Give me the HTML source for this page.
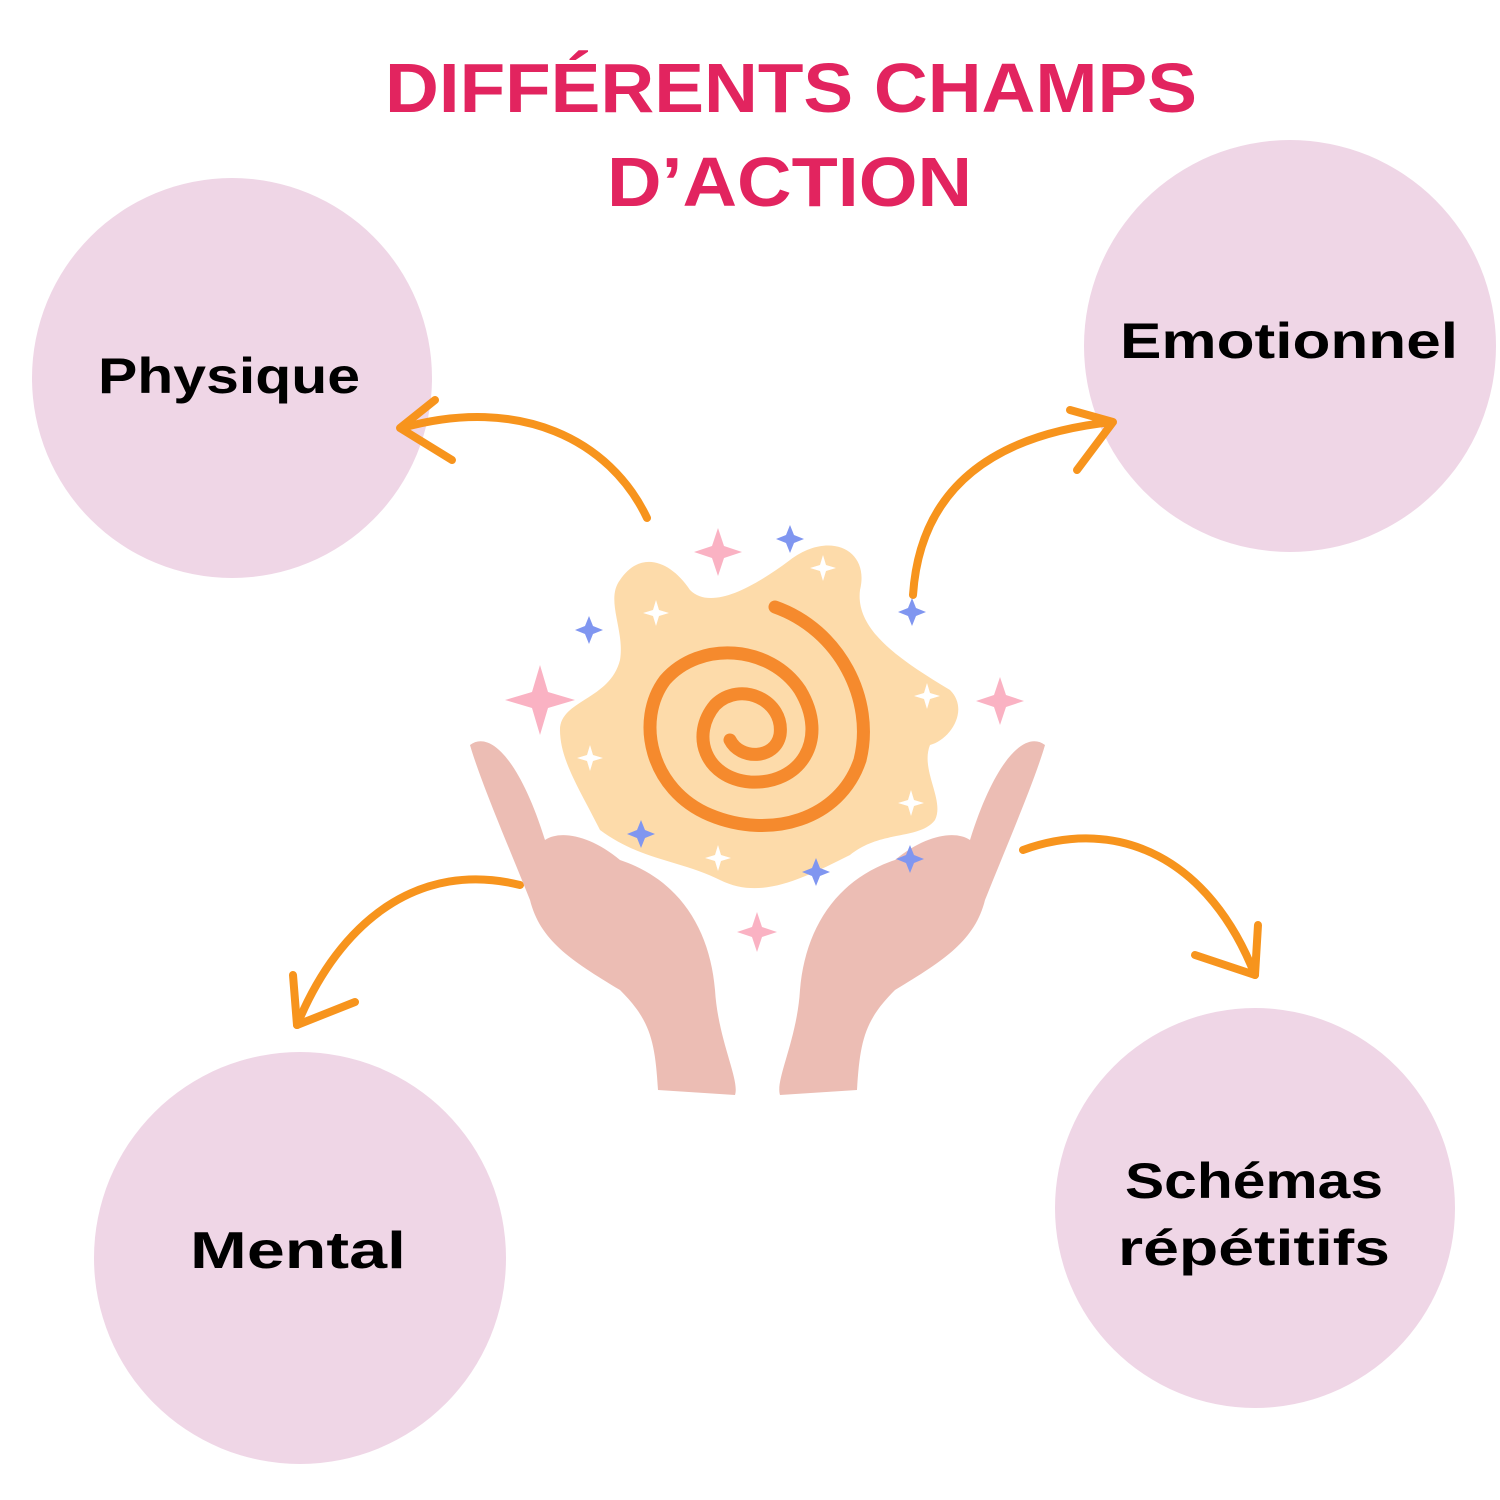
<!DOCTYPE html>
<html><head><meta charset="utf-8"><style>
html,body{margin:0;padding:0;background:#fff}
svg{display:block}
text{font-family:"Liberation Sans",sans-serif;font-weight:bold}
</style></head><body>
<svg width="1500" height="1500" viewBox="0 0 1500 1500" xmlns="http://www.w3.org/2000/svg">
<rect width="1500" height="1500" fill="#fff"/>
<circle cx="232" cy="378" r="200" fill="#efd6e6"/>
<circle cx="1290" cy="346" r="206" fill="#efd6e6"/>
<circle cx="300" cy="1258" r="206" fill="#efd6e6"/>
<circle cx="1255" cy="1208" r="200" fill="#efd6e6"/>
<text x="385" y="112" textLength="812" lengthAdjust="spacingAndGlyphs" font-size="70" fill="#e2245f">DIFFÉRENTS CHAMPS</text>
<text x="607" y="206" textLength="365" lengthAdjust="spacingAndGlyphs" font-size="70" fill="#e2245f">D’ACTION</text>
<text x="98" y="393" textLength="262" lengthAdjust="spacingAndGlyphs" font-size="50" fill="#000">Physique</text>
<text x="1120" y="358" textLength="338" lengthAdjust="spacingAndGlyphs" font-size="50" fill="#000">Emotionnel</text>
<text x="190" y="1268" textLength="216" lengthAdjust="spacingAndGlyphs" font-size="52" fill="#000">Mental</text>
<text x="1125" y="1198" textLength="258" lengthAdjust="spacingAndGlyphs" font-size="50" fill="#000">Schémas</text>
<text x="1118" y="1265" textLength="272" lengthAdjust="spacingAndGlyphs" font-size="50" fill="#000">répétitifs</text>
<g fill="none" stroke="#f7941d" stroke-width="8" stroke-linecap="round" stroke-linejoin="round">
<path d="M647 518 C610 440 520 395 402 428"/><path d="M435 400 L400 428 L452 460"/>
<path d="M913 595 C920 490 990 435 1112 422"/><path d="M1070 410 L1113 422 L1077 470"/>
<path d="M520 885 C420 860 340 920 297 1025"/><path d="M293 975 L297 1025 L355 1002"/>
<path d="M1023 850 C1120 815 1210 860 1255 975"/><path d="M1195 955 L1255 975 L1258 925"/>
</g>
<path d="M620 580 C640 550 670 560 690 590 C710 610 750 590 790 560 C830 530 870 550 860 590 C855 630 900 660 950 690 C970 710 950 740 930 745 C920 770 945 800 935 820 C920 840 880 830 850 855 C800 880 760 900 720 880 C680 860 640 860 600 830 C580 790 560 760 560 730 C560 700 610 700 620 660 C625 630 605 600 620 580Z" fill="#fddbaa"/>
<path d="M775 607 C840 630 875 700 860 760 C840 820 770 840 710 815 C650 790 635 720 665 680 C700 640 770 645 800 690 C830 740 800 785 750 782 C705 778 690 735 715 705 C740 680 785 700 780 735 C775 760 740 760 730 740" fill="none" stroke="#f58a2d" stroke-width="13" stroke-linecap="round"/>
<g fill="#ecbdb4">
<path d="M470 745 C490 730 520 760 545 840 C560 830 590 835 620 860 C680 880 710 930 715 990 C718 1040 740 1080 735 1095 L658 1090 C655 1040 650 1020 620 990 C570 960 540 940 530 900 C510 850 480 780 470 745Z"/>
<path d="M1045 745 C1025 730 995 760 970 840 C955 830 925 835 895 860 C835 880 805 930 800 990 C797 1040 775 1080 780 1095 L857 1090 C860 1040 865 1020 895 990 C945 960 975 940 985 900 C1005 850 1035 780 1045 745Z"/>
</g>
<g>
<path d="M540 665 l8 27 27 8 -27 8 -8 27 -8 -27 -27 -8 27 -8z" fill="#fab2c3"/>
<path d="M718 528 l6 18 18 6 -18 6 -6 18 -6 -18 -18 -6 18 -6z" fill="#fab2c3"/>
<path d="M1000 677 l6 18 18 6 -18 6 -6 18 -6 -18 -18 -6 18 -6z" fill="#fab2c3"/>
<path d="M757 912 l5 15 15 5 -15 5 -5 15 -5 -15 -15 -5 15 -5z" fill="#fab2c3"/>
<path d="M790 525 l4 10 10 4 -10 4 -4 10 -4 -10 -10 -4 10 -4z" fill="#8096f0"/>
<path d="M589 616 l4 10 10 4 -10 4 -4 10 -4 -10 -10 -4 10 -4z" fill="#8096f0"/>
<path d="M912 598 l4 10 10 4 -10 4 -4 10 -4 -10 -10 -4 10 -4z" fill="#8096f0"/>
<path d="M641 820 l4 10 10 4 -10 4 -4 10 -4 -10 -10 -4 10 -4z" fill="#8096f0"/>
<path d="M816 858 l4 10 10 4 -10 4 -4 10 -4 -10 -10 -4 10 -4z" fill="#8096f0"/>
<path d="M910 845 l4 10 10 4 -10 4 -4 10 -4 -10 -10 -4 10 -4z" fill="#8096f0"/>
<g fill="#fff">
<path d="M656 600 l3 10 10 3 -10 3 -3 10 -3 -10 -10 -3 10 -3z"/>
<path d="M823 555 l3 10 10 3 -10 3 -3 10 -3 -10 -10 -3 10 -3z"/>
<path d="M927 683 l3 10 10 3 -10 3 -3 10 -3 -10 -10 -3 10 -3z"/>
<path d="M590 745 l3 10 10 3 -10 3 -3 10 -3 -10 -10 -3 10 -3z"/>
<path d="M911 790 l3 10 10 3 -10 3 -3 10 -3 -10 -10 -3 10 -3z"/>
<path d="M718 845 l3 10 10 3 -10 3 -3 10 -3 -10 -10 -3 10 -3z"/>
</g>
</g>
</svg>
</body></html>
